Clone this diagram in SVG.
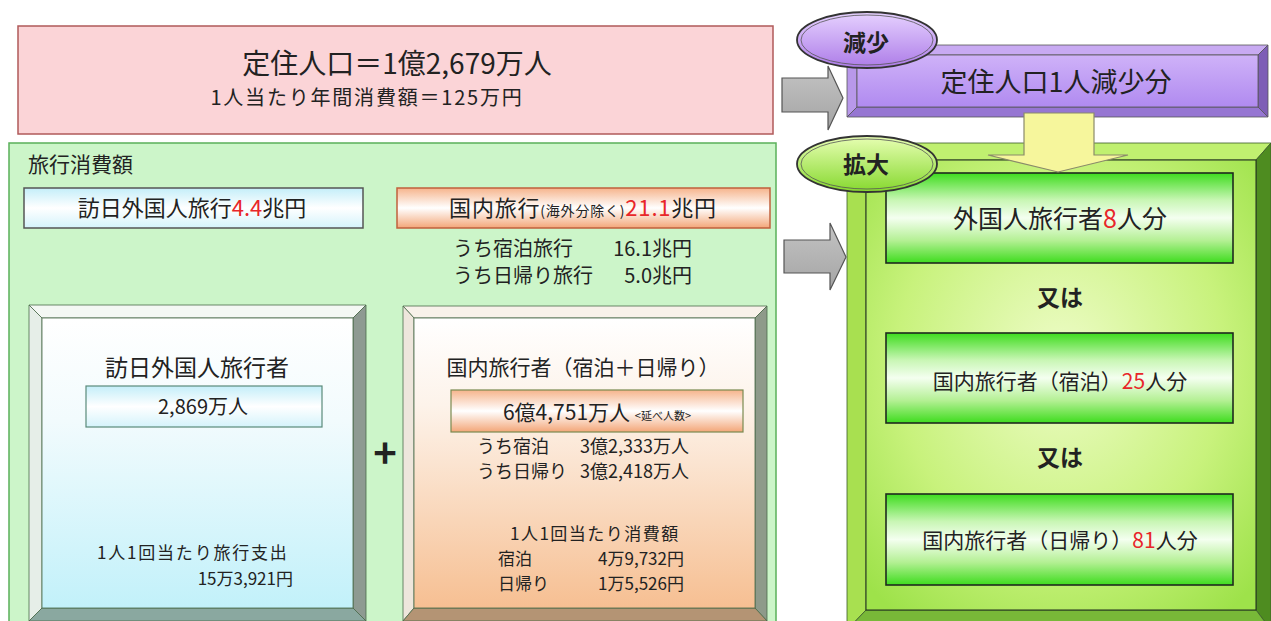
<svg xmlns="http://www.w3.org/2000/svg" width="1271" height="621" viewBox="0 0 1271 621">
<defs>
<linearGradient id="gCyanBox" x1="0" y1="0" x2="0" y2="1"><stop offset="0" stop-color="#c4eef9"/><stop offset="0.5" stop-color="#ffffff"/><stop offset="1" stop-color="#d4f3fb"/></linearGradient>
<linearGradient id="gOrangeBox" x1="0" y1="0" x2="0" y2="1"><stop offset="0" stop-color="#f6b48c"/><stop offset="0.5" stop-color="#ffffff"/><stop offset="1" stop-color="#f3a678"/></linearGradient>
<linearGradient id="gCyanPanel" x1="0" y1="0" x2="0" y2="1"><stop offset="0" stop-color="#ffffff"/><stop offset="0.35" stop-color="#f2fbfd"/><stop offset="1" stop-color="#c2f1fa"/></linearGradient>
<linearGradient id="gOrangePanel" x1="0" y1="0" x2="0" y2="1"><stop offset="0" stop-color="#ffffff"/><stop offset="0.3" stop-color="#fdf3ea"/><stop offset="1" stop-color="#f6bf92"/></linearGradient>
<linearGradient id="gPurple" x1="0" y1="0" x2="0" y2="1"><stop offset="0" stop-color="#cfb2f8"/><stop offset="1" stop-color="#b08af0"/></linearGradient>
<radialGradient id="gGreenPanel" cx="0.5" cy="0.45" r="0.7"><stop offset="0" stop-color="#eefcc8"/><stop offset="0.6" stop-color="#c8f27c"/><stop offset="1" stop-color="#9ee24a"/></radialGradient>
<linearGradient id="gGreenBox" x1="0" y1="0" x2="0" y2="1"><stop offset="0" stop-color="#3edc1e"/><stop offset="0.3" stop-color="#c8f6b4"/><stop offset="0.5" stop-color="#f4fff0"/><stop offset="0.75" stop-color="#b4f094"/><stop offset="1" stop-color="#3edc1e"/></linearGradient>
<linearGradient id="gEllPurple" x1="0" y1="0" x2="0" y2="1"><stop offset="0" stop-color="#e6d2ff"/><stop offset="1" stop-color="#ad7ce8"/></linearGradient>
<linearGradient id="gEllGreen" x1="0" y1="0" x2="0" y2="1"><stop offset="0" stop-color="#e8ffb4"/><stop offset="1" stop-color="#86d82e"/></linearGradient>
<linearGradient id="gGray" x1="0" y1="0" x2="0" y2="1"><stop offset="0" stop-color="#c4c4c4"/><stop offset="1" stop-color="#a4a4a4"/></linearGradient>
</defs>
<style>
text{font-family:"Noto Sans CJK JP","Noto Sans",sans-serif;fill:#222;}
.m{text-anchor:middle;}
.e{text-anchor:end;}
.r{fill:#e8262a;}
.b{font-weight:bold;}
.face{stroke:#4a6a4a;stroke-width:0.8;}
.arrow{fill:url(#gGray);stroke:#555;stroke-width:1.2;}
.gbox{fill:url(#gGreenBox);stroke:#1e2a1e;stroke-width:1.6;}
</style>

<g id="population">
<rect x="18" y="26" width="755" height="108" fill="#fbd4d7" stroke="#b05a5a" stroke-width="1.5"/>
<text x="397" y="74" class="m" font-size="28">定住人口＝1億2,679万人</text>
<text x="367" y="105" class="m" font-size="20" letter-spacing="1.8">1人当たり年間消費額＝125万円</text>
</g>

<g id="travel-spending">
<rect x="9" y="143" width="767" height="490" fill="#ccf5c9" stroke="#5ab05a" stroke-width="1.5"/>
<text x="28" y="172" font-size="21">旅行消費額</text>
</g>

<g id="inbound-total">
<rect x="24" y="188" width="339" height="40" fill="url(#gCyanBox)" stroke="#555" stroke-width="1.5"/>
<text x="192" y="216" class="m" font-size="22">訪日外国人旅行<tspan class="r">4.4</tspan>兆円</text>
</g>

<g id="domestic-total">
<rect x="397" y="188" width="373" height="40" fill="url(#gOrangeBox)" stroke="#c0603c" stroke-width="1.5"/>
<text x="583" y="216" class="m" font-size="22" letter-spacing="0.8">国内旅行<tspan font-size="14">(海外分除く)</tspan><tspan class="r">21.1</tspan>兆円</text>
<text x="453" y="256" font-size="20">うち宿泊旅行</text>
<text x="692" y="256" class="e" font-size="20">16.1兆円</text>
<text x="453" y="283" font-size="20">うち日帰り旅行</text>
<text x="692" y="283" class="e" font-size="20">5.0兆円</text>
</g>

<g id="inbound-travelers">
<polygon class="face" points="29,305 366,305 353,318 42,318" fill="#f4f8f4"/>
<polygon class="face" points="29,305 42,318 42,608 29,621" fill="#e6eee8"/>
<polygon class="face" points="366,305 366,621 353,608 353,318" fill="#8e9a92"/>
<polygon class="face" points="29,621 366,621 353,608 42,608" fill="#8aa8a0"/>
<rect x="42" y="318" width="311" height="290" fill="url(#gCyanPanel)" stroke="#4a6a4a" stroke-width="0.8"/>
<text x="197" y="376" class="m" font-size="23">訪日外国人旅行者</text>
<rect x="86" y="386" width="236" height="41" fill="url(#gCyanBox)" stroke="#5a8a7a" stroke-width="1.2"/>
<text x="203" y="414" class="m" font-size="20">2,869万人</text>
<text x="97" y="559" font-size="17" letter-spacing="1.8">1人1回当たり旅行支出</text>
<text x="293" y="585" class="e" font-size="17">15万3,921円</text>
</g>

<g id="plus">
<text x="385" y="468" class="m b" font-size="40">+</text>
</g>

<g id="domestic-travelers">
<polygon class="face" points="403,306 767,306 755,318 414,318" fill="#f8f2ea"/>
<polygon class="face" points="403,306 414,318 414,608 403,621" fill="#eee6dc"/>
<polygon class="face" points="767,306 767,621 755,608 755,318" fill="#8e9a8a"/>
<polygon class="face" points="403,621 767,621 755,608 414,608" fill="#b49474"/>
<rect x="414" y="318" width="341" height="290" fill="url(#gOrangePanel)" stroke="#4a6a4a" stroke-width="0.8"/>
<text x="583" y="375" class="m" font-size="21">国内旅行者（宿泊＋日帰り）</text>
<rect x="451" y="390" width="292" height="42" fill="url(#gOrangeBox)" stroke="#7a8a50" stroke-width="1.2"/>
<text x="597" y="420" class="m" font-size="21">6億4,751万人 <tspan font-size="11">&lt;延べ人数&gt;</tspan></text>
<text x="477" y="453" font-size="18">うち宿泊</text>
<text x="580" y="453" font-size="18">3億2,333万人</text>
<text x="477" y="478" font-size="18">うち日帰り</text>
<text x="580" y="478" font-size="18">3億2,418万人</text>
<text x="510" y="540" font-size="17" letter-spacing="1.5">1人1回当たり消費額</text>
<text x="498" y="565" font-size="17">宿泊</text>
<text x="684" y="565" class="e" font-size="17">4万9,732円</text>
<text x="498" y="590" font-size="17">日帰り</text>
<text x="684" y="590" class="e" font-size="17">1万5,526円</text>
</g>

<g id="decrease">
<polygon points="847,45 1268,45 1258,55 857,55" fill="#c8aaf2" stroke="#555" stroke-width="0.8"/>
<polygon points="847,45 857,55 857,107 847,117" fill="#b898ea" stroke="#555" stroke-width="0.8"/>
<polygon points="1268,45 1268,117 1258,107 1258,55" fill="#7e5eb6" stroke="#555" stroke-width="0.8"/>
<polygon points="847,117 1268,117 1258,107 857,107" fill="#9676d2" stroke="#555" stroke-width="0.8"/>
<rect x="857" y="55" width="401" height="52" fill="url(#gPurple)" stroke="#555" stroke-width="0.8"/>
<text x="1056" y="92" class="m" font-size="27">定住人口1人減少分</text>
</g>

<g id="decrease-label">
<ellipse cx="867" cy="40" rx="70" ry="28" fill="url(#gEllPurple)" stroke="#333" stroke-width="1.8"/>
<ellipse cx="867" cy="40" rx="66" ry="25" fill="none" stroke="#555" stroke-width="0.8"/>
<text x="866" y="51" class="m b" font-size="23">減少</text>
</g>

<g id="increase">
<polygon points="847,143 1271,143 1256,160 866,160" fill="#c0f070" stroke="#3a5a2a" stroke-width="0.8"/>
<polygon points="847,143 866,160 866,610 847,630" fill="#a8e050" stroke="#3a5a2a" stroke-width="0.8"/>
<polygon points="1271,143 1271,630 1256,610 1256,160" fill="#4e8c20" stroke="#3a5a2a" stroke-width="0.8"/>
<polygon points="847,630 1271,630 1256,610 866,610" fill="#78b838" stroke="#3a5a2a" stroke-width="0.8"/>
<rect x="866" y="160" width="390" height="450" fill="url(#gGreenPanel)" stroke="#1e2a1e" stroke-width="1"/>
</g>

<g id="foreign-8">
<rect x="886" y="173" width="347" height="90" class="gbox"/>
<text x="1060" y="228" class="m" font-size="25">外国人旅行者<tspan class="r">8</tspan>人分</text>
</g>
<g id="or-1"><text x="1060" y="306" class="m b" font-size="23">又は</text></g>
<g id="domestic-stay-25">
<rect x="886" y="333" width="347" height="90" class="gbox"/>
<text x="1060" y="389" class="m" font-size="21">国内旅行者（宿泊）<tspan class="r">25</tspan>人分</text>
</g>
<g id="or-2"><text x="1060" y="466" class="m b" font-size="23">又は</text></g>
<g id="domestic-day-81">
<rect x="886" y="494" width="347" height="91" class="gbox"/>
<text x="1060" y="548" class="m" font-size="21">国内旅行者（日帰り）<tspan class="r">81</tspan>人分</text>
</g>

<g id="increase-label">
<ellipse cx="867" cy="164" rx="70" ry="28" fill="url(#gEllGreen)" stroke="#333" stroke-width="1.8"/>
<ellipse cx="867" cy="164" rx="66" ry="25" fill="none" stroke="#555" stroke-width="0.8"/>
<text x="866" y="173" class="m b" font-size="23">拡大</text>
</g>

<g id="connectors">
<polygon class="arrow" points="782,78 828,78 828,66 843,98 828,130 828,112 782,112"/>
<polygon class="arrow" points="784,240 830,240 830,223 846,257 830,290 830,273 784,273"/>
<polygon points="1024,113 1094,113 1094,155 1128,155 1058,172 988,155 1024,155" fill="#f6f69c" stroke="#8a8a6a" stroke-width="1.2"/>
</g>
</svg>
